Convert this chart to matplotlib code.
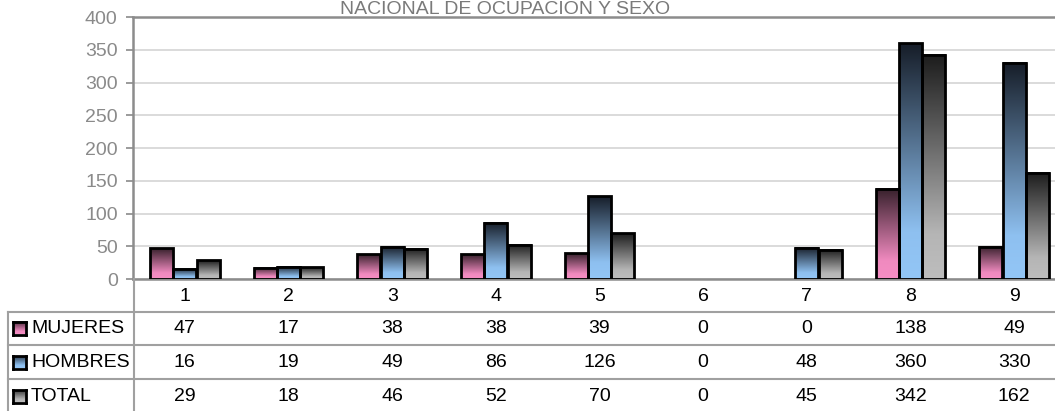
import matplotlib
matplotlib.use('Agg')
import matplotlib.pyplot as plt
import matplotlib.transforms as mtransforms
from matplotlib.colors import LinearSegmentedColormap
import numpy as np

plt.rcParams['font.family'] = ['Liberation Sans', 'DejaVu Sans']

categorias = ['1', '2', '3', '4', '5', '6', '7', '8', '9']
series = ['MUJERES', 'HOMBRES', 'TOTAL']
mujeres = [47, 17, 38, 38, 39, 0, 0, 138, 49]
hombres = [16, 19, 49, 86, 126, 0, 48, 360, 330]
total = [29, 18, 46, 52, 70, 0, 45, 342, 162]
valores = [mujeres, hombres, total]
titulo = 'NACIONAL DE OCUPACION Y SEXO'

# degradado claro abajo -> oscuro arriba
cmaps = [
    LinearSegmentedColormap.from_list('m', [(0, '#F68EC4'), (0.2, '#F08ABF'), (1, '#36202B')]),
    LinearSegmentedColormap.from_list('h', [(0, '#93C6F6'), (0.2, '#8EC0F0'), (1, '#161D28')]),
    LinearSegmentedColormap.from_list('t', [(0, '#BDBDBD'), (0.2, '#B5B5B5'), (1, '#1C1C1C')]),
]

W, H = 1055, 411
fig = plt.figure(figsize=(W / 100, H / 100), dpi=100)
ax = fig.add_axes([133 / W, 1 - 279 / H, (1066 - 133) / W, (279 - 17) / H])

x = np.arange(1, len(categorias) + 1)
ancho = 0.222
grad = np.linspace(0, 1, 256).reshape(-1, 1)
for k, vals in enumerate(valores):
    barras = ax.bar(x + (k - 1) * (ancho + 0.003), vals, ancho, facecolor='none',
                    edgecolor='black', linewidth=2, zorder=3)
    for b in barras:
        h = b.get_height()
        if h <= 0:
            b.set_visible(False)  # las barras en cero no se ven
            continue
        ax.imshow(grad, extent=[b.get_x(), b.get_x() + b.get_width(), 0, h],
                  origin='lower', aspect='auto', cmap=cmaps[k], zorder=2)

ax.set_xlim(0.5, 9.5)
ax.set_ylim(0, 400)
ax.set_yticks(range(0, 401, 50))
ax.set_xticks([])
ax.yaxis.grid(True, color='#d4d4d4', linewidth=1.2)
ax.set_axisbelow(True)
ax.tick_params(axis='y', colors='#8a8a8a', labelsize=14, length=5, width=1.2, pad=6)
for s in ['left', 'top', 'bottom']:
    ax.spines[s].set_color('#8c8c8c')
    ax.spines[s].set_linewidth(1.8)
ax.spines['right'].set_visible(False)

fig.text(505 / W, 1 - 14 / H, titulo, ha='center', va='baseline', fontsize=14, color='#7a7a7a')

# tabla de datos
tr = mtransforms.blended_transform_factory(ax.transData, fig.transFigure)
filas_y = [296, 328, 362, 396]
for i, c in enumerate(categorias):
    fig.text(x[i], 1 - filas_y[0] / H, c, transform=tr, ha='center', va='center', fontsize=14)
    for k, vals in enumerate(valores):
        fig.text(x[i], 1 - filas_y[k + 1] / H, str(vals[i]), transform=tr,
                 ha='center', va='center', fontsize=14)

for yl in [312, 345, 379]:
    fig.add_artist(plt.Line2D([8 / W, 1], [1 - yl / H] * 2, color='#a0a0a0', linewidth=1.5))
fig.add_artist(plt.Line2D([8 / W, 8 / W], [1 - 312 / H, 0], color='#a0a0a0', linewidth=1.5))
fig.add_artist(plt.Line2D([133.5 / W, 133.5 / W], [1 - 279 / H, 0], color='#a0a0a0', linewidth=1.5))

for k, nombre in enumerate(series):
    yc = filas_y[k + 1]
    lax = fig.add_axes([13 / W, 1 - (yc + 6.5) / H, 13 / W, 13 / H])
    lax.imshow(grad, origin='lower', aspect='auto', cmap=cmaps[k])
    lax.set_xticks([])
    lax.set_yticks([])
    for s in lax.spines.values():
        s.set_linewidth(2)
    fig.text(31 / W, 1 - yc / H, nombre, ha='left', va='center', fontsize=14)

fig.savefig('out.png', dpi=100)
